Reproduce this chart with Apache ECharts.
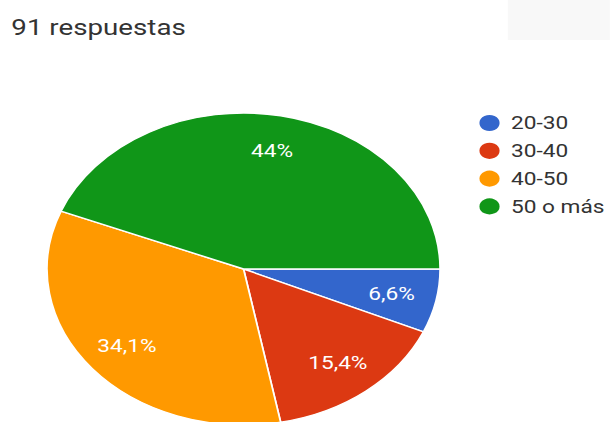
<!DOCTYPE html>
<html>
<head>
<meta charset="utf-8">
<script src="https://cdn.jsdelivr.net/npm/echarts@6/dist/echarts.min.js"></script>
<style>
  html, body { margin: 0; padding: 0; background: #fff; overflow: hidden; }
  #wrap { width: 610px; height: 422px; overflow: hidden; position: relative; }
  /* the chart is laid out narrow and stretched sideways, giving the oval pie */
  #chart { width: 484px; height: 422px; transform: scaleX(1.26); transform-origin: 0 0; }
</style>
</head>
<body>
<div id="wrap"><div id="chart"></div></div>
<script>
const title = '91 respuestas';
const categories = ['20-30', '30-40', '40-50', '50 o más'];
const counts = [6, 14, 31, 40];
const percentLabels = ['6,6%', '15,4%', '34,1%', '44%'];
const colors = ['#3366cc', '#dc3912', '#ff9900', '#109618'];

const font = 'Roboto, "Noto Sans", sans-serif';
const slices = categories.map((name, i) => ({ name, value: counts[i], itemStyle: { color: colors[i] } }));

const chart = echarts.init(document.getElementById('chart'), null, { renderer: 'svg' });
chart.setOption({
  animation: false,
  backgroundColor: '#fff',
  graphic: [{
    type: 'rect', left: 403, top: 0, shape: { width: 90, height: 40 },
    style: { fill: '#f8f8f8' }, silent: true
  }],
  title: {
    text: title, left: 4, top: 12,
    textStyle: { fontFamily: font, fontSize: 22, fontWeight: 'normal', color: '#333' }
  },
  legend: {
    orient: 'vertical', left: 378.5, top: 113, padding: 0,
    icon: 'circle', itemWidth: 18, itemHeight: 18, itemGap: 7.8,
    selectedMode: false,
    data: categories,
    textStyle: { fontFamily: font, fontSize: 18, color: '#333', lineHeight: 18, padding: [0, 0, 0, 3] }
  },
  series: [
    {
      type: 'pie', center: [193.3, 269], radius: [0, 156],
      startAngle: 0, clockwise: true, silent: true,
      data: slices,
      label: { show: false }, labelLine: { show: false },
      itemStyle: { borderColor: '#fff', borderWidth: 1.4 }
    },
    {
      // transparent ring that only carries the percentage labels
      type: 'pie', center: [193.3, 269], radius: [78, 156],
      startAngle: 0, clockwise: true, silent: true,
      data: categories.map((name, i) => ({ name, value: counts[i] })),
      itemStyle: { color: 'rgba(0,0,0,0)' },
      label: {
        show: true, position: 'inside',
        formatter: p => percentLabels[p.dataIndex],
        fontFamily: font, fontSize: 18, color: '#fff'
      },
      labelLine: { show: false }
    }
  ]
});
</script>
</body>
</html>
